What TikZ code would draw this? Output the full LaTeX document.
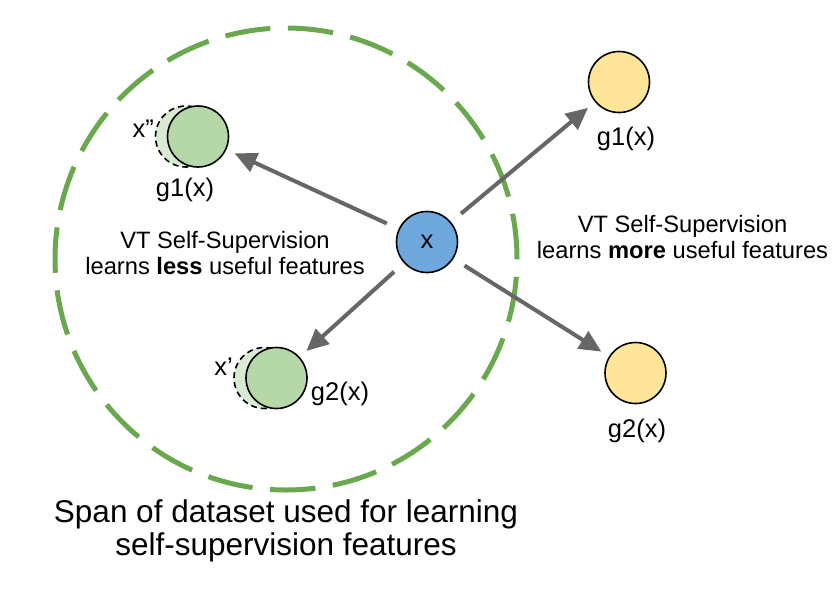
\documentclass[tikz,border=0pt]{standalone}
\usepackage{fontspec}
\setmainfont{Liberation Sans}
\usetikzlibrary{arrows.meta}
\definecolor{spangreen}{HTML}{6AA84F}
\definecolor{solidgreen}{HTML}{B6D7A8}
\definecolor{ghostgreen}{HTML}{D9EAD3}
\definecolor{xblue}{HTML}{6FA8DC}
\definecolor{outyellow}{HTML}{FFE599}
\definecolor{arrowgray}{HTML}{666666}
\begin{document}
\begin{tikzpicture}[x=1pt,y=-1pt,
    ball/.style={circle,draw=black,line width=1.6pt,inner sep=0pt,minimum size=61pt},
    ghost/.style={ball,dash pattern=on 6pt off 4pt,fill=ghostgreen},
    mapsto/.style={draw=arrowgray,line width=4pt,-{Triangle[length=22pt,width=20pt]},shorten <=13pt,shorten >=9pt},
    lbl/.style={font=\fontsize{25.5}{30}\selectfont,inner sep=0pt}]
    \useasboundingbox (0,0) rectangle (840,592);
    \draw[spangreen,line width=5pt,dash pattern=on 45.5pt off 17.6pt] (286,259) circle[radius=231pt];
    \node[ghost] (g1ghost) at (186,136.5) {};
    \node[ball,fill=solidgreen] (g1in) at (198,136.5) {};
    \node[ghost] (g2ghost) at (264.5,378) {};
    \node[ball,fill=solidgreen] (g2in) at (276.5,378) {};
    \node[ball,fill=xblue] (x) at (427,242) {\fontsize{25.5}{30}\selectfont x};
    \node[ball,fill=outyellow] (g1out) at (619,82) {};
    \node[ball,fill=outyellow] (g2out) at (635.5,373) {};
    \draw[mapsto] (x) -- (g1in);
    \draw[mapsto] (x) -- (g2in);
    \draw[mapsto] (x) -- (g1out);
    \draw[mapsto] (x) -- (g2out);
    \node[lbl,anchor=base east] (xdd) at (154,137) {x''};
    \node[lbl,anchor=base] (g1inlbl) at (185,196) {g1(x)};
    \node[lbl,anchor=base east] (xd) at (233,375) {x'};
    \node[lbl,anchor=base] (g2inlbl) at (340,400) {g2(x)};
    \node[lbl,anchor=base] (g1outlbl) at (626,145) {g1(x)};
    \node[lbl,anchor=base] (g2outlbl) at (637,437) {g2(x)};
    \node[font=\fontsize{23.7}{26}\selectfont,align=center,anchor=base,inner sep=0pt] (less) at (225,274) {VT Self-Supervision\\learns \textbf{less} useful features};
    \node[font=\fontsize{23.7}{26}\selectfont,align=center,anchor=base,inner sep=0pt] (more) at (682.5,258) {VT Self-Supervision\\learns \textbf{more} useful features};
    \node[font=\fontsize{31.5}{33}\selectfont,align=center,anchor=base,inner sep=0pt] (span) at (286,555) {Span of dataset used for learning\\self-supervision features};
\end{tikzpicture}
\end{document}
